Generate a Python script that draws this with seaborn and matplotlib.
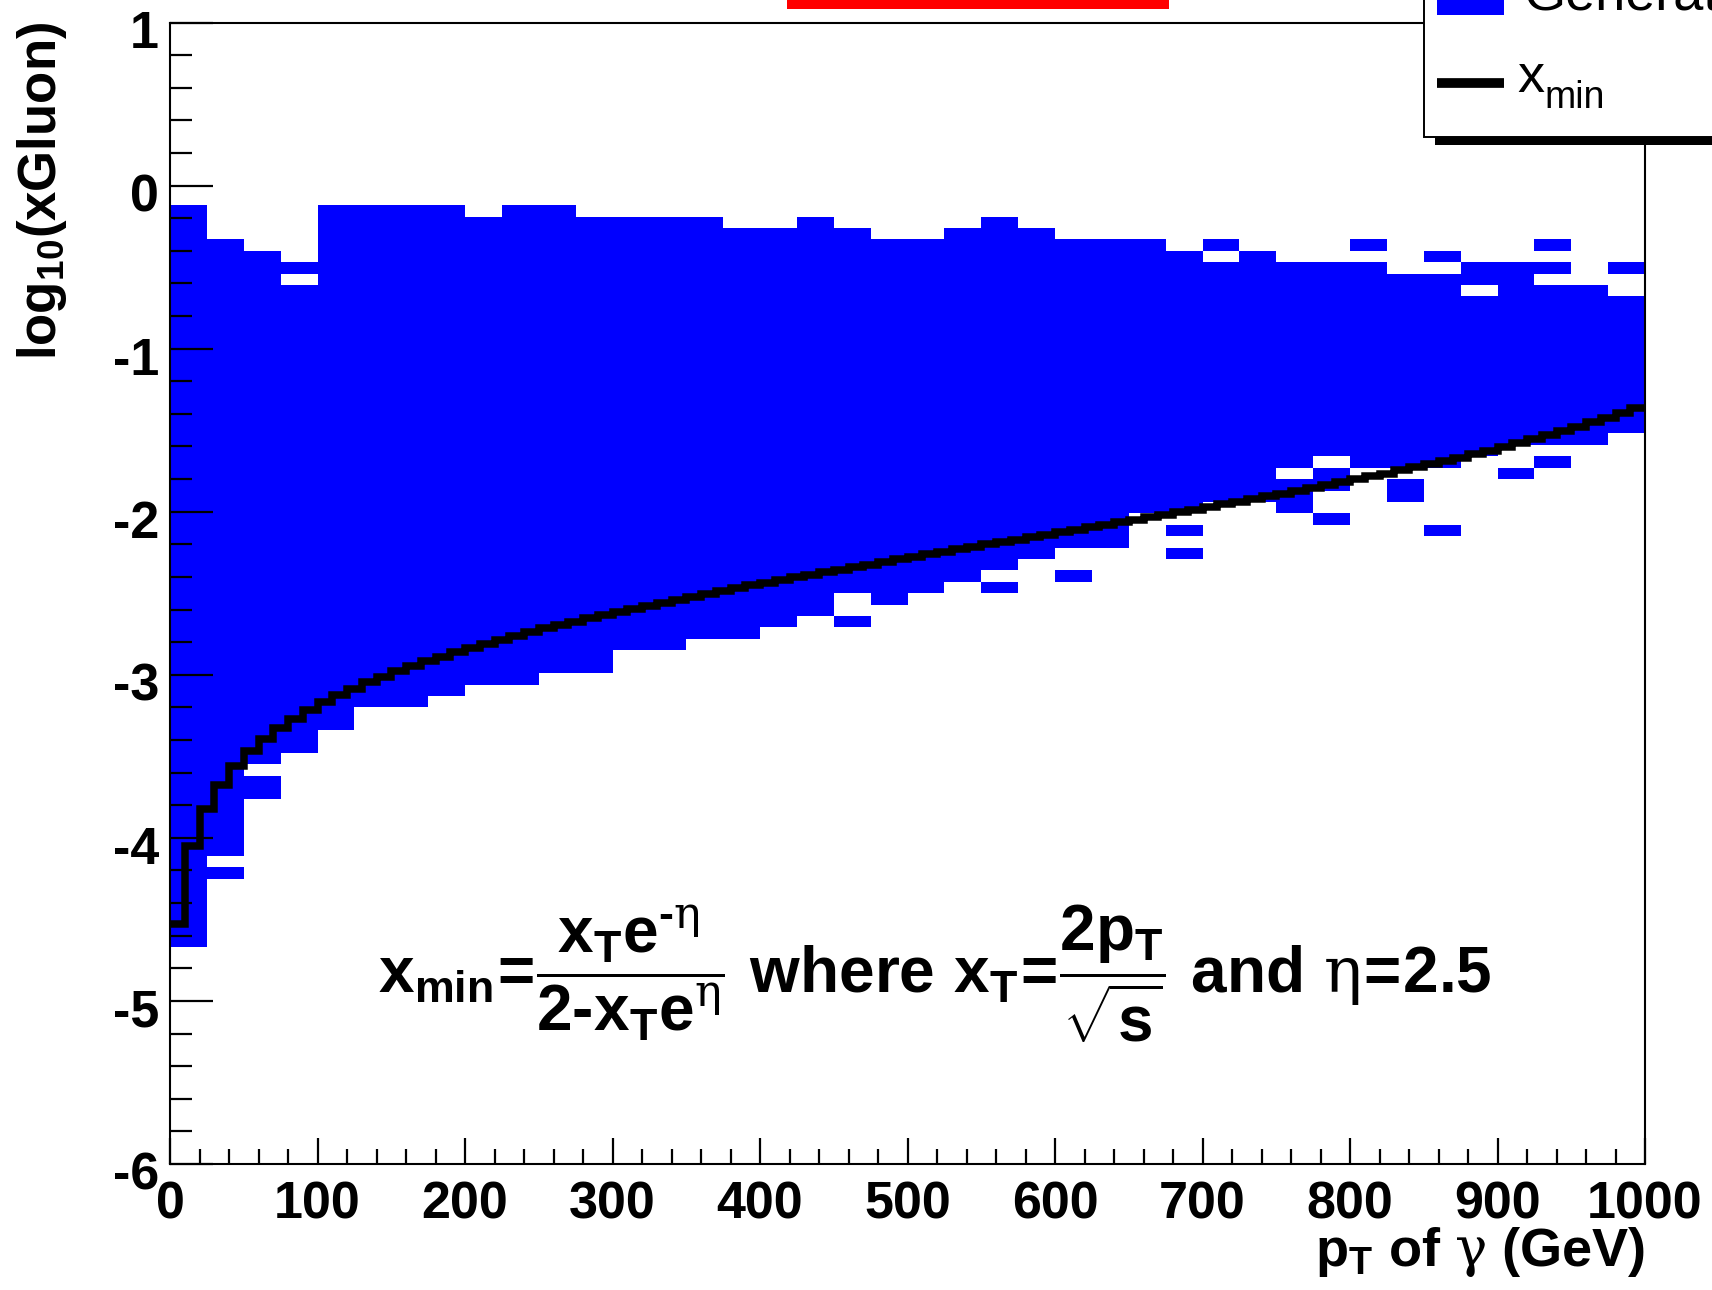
import numpy as np
import pandas as pd
import matplotlib
matplotlib.use("Agg")
import matplotlib.pyplot as plt
import seaborn as sns
from matplotlib.colors import ListedColormap
from matplotlib.patches import Rectangle
from matplotlib.lines import Line2D
from matplotlib.ticker import MultipleLocator
from matplotlib.transforms import ScaledTranslation

# ---------------- data ----------------
PT_BIN = 25.0        # GeV, x binning of the 2D histogram
LOG_BIN = 0.07       # y binning (log10 xGluon)

# upper / lower edge of the filled band, one value per 25 GeV column
band_top = [-0.12, -0.33, -0.40, -0.47, -0.12, -0.12, -0.12, -0.12, -0.19, -0.12,
            -0.12, -0.19, -0.19, -0.19, -0.19, -0.26, -0.26, -0.19, -0.26, -0.33,
            -0.33, -0.26, -0.19, -0.26, -0.33, -0.33, -0.33, -0.40, -0.47, -0.40,
            -0.47, -0.47, -0.47, -0.54, -0.54, -0.47, -0.47, -0.61, -0.61, -0.68]
band_bottom = [-4.67, -4.25, -3.76, -3.48, -3.34, -3.20, -3.20, -3.13, -3.06, -3.06,
               -2.99, -2.99, -2.85, -2.85, -2.78, -2.78, -2.71, -2.64, -2.50, -2.57,
               -2.50, -2.43, -2.36, -2.29, -2.22, -2.22, -2.01, -2.01, -1.94, -1.94,
               -2.01, -1.87, -1.73, -1.73, -1.73, -1.66, -1.59, -1.59, -1.59, -1.52]

# isolated filled cells outside the band (pT low edge, log10 low edge)
extra_pt = [450, 550, 600, 675, 675, 700, 775, 800, 825, 825, 850, 850, 900, 925, 925, 925, 975]
extra_lo = [-2.71, -2.50, -2.43, -2.15, -2.29, -0.40, -2.08, -0.40, -1.94, -1.87,
            -0.47, -2.15, -1.80, -0.54, -0.40, -1.73, -0.54]

# empty cells inside the band
hole_pt = [25, 50, 75, 750, 775, 875]
hole_lo = [-4.18, -3.62, -0.61, -1.80, -1.73, -0.68]

# x_min curve, one value per 10 GeV bin (log10)
xmin_log = [-4.531, -4.050, -3.824, -3.674, -3.561, -3.470, -3.394, -3.327, -3.269, -3.217,
            -3.169, -3.125, -3.085, -3.047, -3.012, -2.979, -2.947, -2.917, -2.888, -2.861,
            -2.835, -2.809, -2.785, -2.761, -2.739, -2.716, -2.695, -2.674, -2.653, -2.633,
            -2.614, -2.594, -2.576, -2.557, -2.539, -2.521, -2.504, -2.486, -2.469, -2.452,
            -2.436, -2.419, -2.403, -2.387, -2.371, -2.355, -2.339, -2.324, -2.308, -2.293,
            -2.277, -2.262, -2.247, -2.231, -2.216, -2.201, -2.186, -2.171, -2.156, -2.141,
            -2.125, -2.110, -2.095, -2.080, -2.065, -2.049, -2.034, -2.018, -2.002, -1.987,
            -1.971, -1.955, -1.939, -1.922, -1.906, -1.889, -1.872, -1.855, -1.838, -1.820,
            -1.802, -1.784, -1.766, -1.747, -1.728, -1.708, -1.688, -1.668, -1.646, -1.625,
            -1.603, -1.580, -1.556, -1.531, -1.506, -1.480, -1.452, -1.423, -1.393, -1.362]

x_ticks_major = 100
y_ticks_major = 1

# ---------------- style ----------------
sns.set_style("white")
plt.rcParams["font.family"] = ["Liberation Sans", "DejaVu Sans"]
plt.rcParams["font.weight"] = "bold"
plt.rcParams["axes.unicode_minus"] = False
plt.rcParams["mathtext.fontset"] = "custom"
plt.rcParams["mathtext.rm"] = "Liberation Sans:bold"
plt.rcParams["mathtext.it"] = "Liberation Sans:bold"
plt.rcParams["mathtext.bf"] = "Liberation Sans:bold"
plt.rcParams["mathtext.sf"] = "DejaVu Serif:normal"
plt.rcParams["mathtext.default"] = "rm"

W, H = 1712, 1290
fig = plt.figure(figsize=(W / 100, H / 100), dpi=100)
ax = fig.add_axes([170 / W, 1 - 1164 / H, 1475 / W, (1164 - 22.5) / H])

# ---------------- build filled-cell table ----------------
n_x = int(round(1000 / PT_BIN))
n_y = int(round(7 / LOG_BIN))
x_edges = np.linspace(0, 1000, n_x + 1)
y_edges = np.linspace(-6, 1, n_y + 1)
filled = np.zeros((n_x, n_y), dtype=bool)
for c, (top, bot) in enumerate(zip(band_top, band_bottom)):
    jt = int(round((top + 6) / LOG_BIN))
    jb = int(round((bot + 6) / LOG_BIN))
    filled[c, jb:jt] = True
for p, lo in zip(extra_pt, extra_lo):
    filled[int(round(p / PT_BIN)), int(round((lo + 6) / LOG_BIN))] = True
for p, lo in zip(hole_pt, hole_lo):
    filled[int(round(p / PT_BIN)), int(round((lo + 6) / LOG_BIN))] = False
ci, cj = np.nonzero(filled)
cells = pd.DataFrame({
    "pt": (x_edges[ci] + x_edges[ci + 1]) / 2,
    "logx": (y_edges[cj] + y_edges[cj + 1]) / 2,
})

sns.histplot(data=cells, x="pt", y="logx", bins=[x_edges, y_edges],
             cmap=ListedColormap(["#0000ff"]), cbar=False, ax=ax,
             linewidth=0, antialiased=False, zorder=1)

xmin_edges = np.linspace(0, 1000, len(xmin_log) + 1)
st = ax.stairs(xmin_log, xmin_edges, color="black", linewidth=5.4,
               baseline=None, zorder=3)
st.set_joinstyle("miter")

# ---------------- axes ----------------
ax.set_xlim(0, 1000)
ax.set_ylim(-6, 1)
ax.set_xlabel("")
ax.set_ylabel("")
ax.set_axisbelow(False)
ax.xaxis.set_major_locator(MultipleLocator(x_ticks_major))
ax.xaxis.set_minor_locator(MultipleLocator(20))
ax.yaxis.set_major_locator(MultipleLocator(y_ticks_major))
ax.yaxis.set_minor_locator(MultipleLocator(0.2))
ax.tick_params(which="both", direction="in", top=False, right=False,
               left=True, bottom=True, width=1.6, color="black",
               labelsize=37.5, labelcolor="black")
ax.tick_params(axis="y", which="major", length=31, pad=8)
ax.tick_params(axis="y", which="minor", length=16)
ax.tick_params(axis="x", which="major", length=19, pad=12)
ax.tick_params(axis="x", which="minor", length=11)
for sp in ax.spines.values():
    sp.set_visible(True)
    sp.set_color("black")
    sp.set_linewidth(1.5)
    sp.set_zorder(4)

for t in ax.yaxis.get_major_ticks():
    t.label1.set_transform(t.label1.get_transform()
                           + ScaledTranslation(0, -7 / 100, fig.dpi_scale_trans))


def fx(px):
    return px / W


def fy(py):
    return 1 - py / H


# axis titles
fig.text(fx(42), fy(22), r"log$_{10}$(xGluon)", rotation=90, ha="center", va="top",
         fontsize=38, fontweight="bold", color="black")
fig.text(fx(1645), fy(1266), r"p$_{\mathrm{T}}$ of $\mathsf{\gamma}$ (GeV)",
         ha="right", va="baseline", fontsize=39, fontweight="bold", color="black")

# formula
formula = (r"$\mathrm{x}_{\mathrm{min}}\!=\!\dfrac{\mathrm{x}_{\mathrm{T}}\mathrm{e}^{\text{-}\mathsf{\eta}}}"
           r"{\mathrm{2}\text{-}\mathrm{x}_{\mathrm{T}}\mathrm{e}^{\mathsf{\eta}}}"
           r"\ \mathrm{where}\ \mathrm{x}_{\mathrm{T}}\!=\!\dfrac{\mathrm{2p}_{\mathrm{T}}}{\sqrt{\mathrm{s}}}"
           r"\ \mathrm{and}\ \mathsf{\eta}\!=\!\mathrm{2.5}$")
fig.text(fx(935), fy(993), formula, ha="center", va="baseline", fontsize=46,
         color="black")

# red bar at the top
fig.add_artist(Rectangle((fx(787), fy(9)), (1169 - 787) / W, 30 / H,
                         transform=fig.transFigure, facecolor="#ff0000",
                         edgecolor="none", zorder=10))

# legend box (partly outside the canvas) with shadow
fig.add_artist(Rectangle((fx(1435), fy(145)), 400 / W, 200 / H,
                         transform=fig.transFigure, facecolor="black",
                         edgecolor="none", zorder=10))
fig.add_artist(Rectangle((fx(1424), fy(136.5)), 400 / W, 200 / H,
                         transform=fig.transFigure, facecolor="white",
                         edgecolor="black", linewidth=1.4, zorder=11))
fig.add_artist(Rectangle((fx(1437), fy(15)), 67 / W, 60 / H,
                         transform=fig.transFigure, facecolor="#0000ff",
                         edgecolor="none", zorder=12))
fig.add_artist(Line2D([fx(1437), fx(1504)], [fy(83), fy(83)],
                      transform=fig.transFigure, color="black", linewidth=7,
                      solid_capstyle="butt", zorder=12))
fig.text(fx(1523), fy(10), "Generated", ha="left", va="baseline", fontsize=39,
         fontweight="normal", color="black", zorder=12)
fig.text(fx(1517), fy(92), "x", ha="left", va="baseline", fontsize=39,
         fontweight="normal", color="black", zorder=12)
fig.text(fx(1544), fy(108), "min", ha="left", va="baseline", fontsize=27,
         fontweight="normal", color="black", zorder=12)

fig.savefig("out.png", dpi=100)
